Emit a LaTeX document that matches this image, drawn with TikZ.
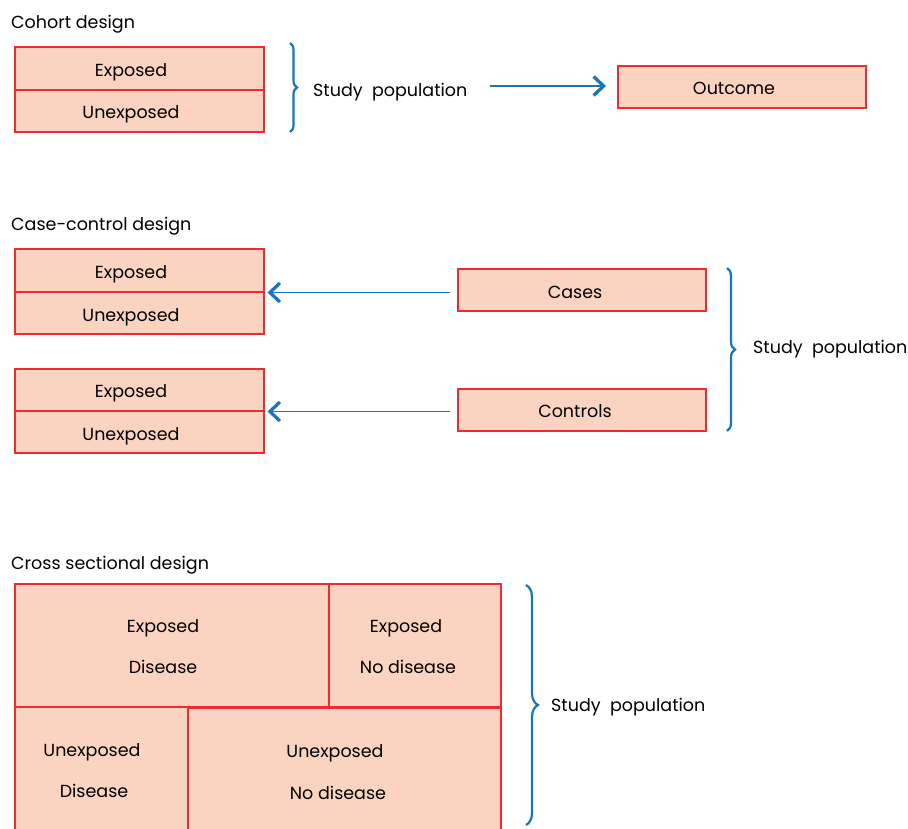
\documentclass[tikz,border=0pt]{standalone}
\usepackage{fontspec}
\setmainfont{Poppins}
\usetikzlibrary{arrows.meta,decorations.pathreplacing}
\definecolor{boxfill}{HTML}{FBD3C1}
\definecolor{boxline}{HTML}{EE2A35}
\definecolor{arrblue}{HTML}{1B75BB}
\begin{document}
\begin{tikzpicture}[x=1pt,y=-1pt,
  every node/.style={font=\fontsize{17.5}{41}\selectfont, text=black},
  cell/.style={draw=boxline, fill=boxfill, line width=1.5pt, anchor=north west, inner sep=0pt},
  txt/.style={align=center, inner sep=0pt, anchor=base},
  title/.style={anchor=base west, inner sep=0pt},
  lbl/.style={anchor=base west, inner sep=0pt},
  conn/.style={draw=arrblue, line width=1.8pt, -{Straight Barb[length=10pt,width=19pt,line width=3.3pt]}},
  bracestyle/.style={draw=arrblue, line width=2.2pt, decorate, decoration={brace, amplitude=#1}}]
\useasboundingbox (0,0) rectangle (908,828);
% Cohort
\node[title] (t1) at (11,28) {Cohort design};
\node[cell, minimum width=249pt, minimum height=43pt] (c1) at (14,46) {};
\node[cell, minimum width=249pt, minimum height=42pt] (c2) at (14,89) {};
\node[txt] (c1t) at (131,76) {Exposed};
\node[txt] (c2t) at (131,118) {Unexposed};
\draw[bracestyle=7pt] (290,43) -- (290,132);
\node[lbl] (sp1) at (313,96) {Study\ \ population};
\node[cell, minimum width=248pt, minimum height=42pt] (out) at (617,65) {};
\node[txt] (outt) at (734,94) {Outcome};
\coordinate (a1s) at (490,86);
\draw[conn, shorten >=11pt] (a1s) -- (out.west |- a1s);
% Case-control
\node[title] (t2) at (11,230) {Case-control design};
\node[cell, minimum width=249pt, minimum height=43pt] (e1) at (14,248) {};
\node[cell, minimum width=249pt, minimum height=42pt] (u1) at (14,291) {};
\node[cell, minimum width=249pt, minimum height=42pt] (e2) at (14,368) {};
\node[cell, minimum width=249pt, minimum height=42pt] (u2) at (14,410) {};
\node[txt] (e1t) at (131,278) {Exposed};
\node[txt] (u1t) at (131,321) {Unexposed};
\node[txt] (e2t) at (131,397) {Exposed};
\node[txt] (u2t) at (131,440) {Unexposed};
\node[cell, minimum width=248pt, minimum height=42pt] (cases) at (457,268) {};
\node[cell, minimum width=248pt, minimum height=42pt] (ctrl) at (457,388) {};
\node[txt] (casest) at (575,298) {Cases};
\node[txt] (ctrlt) at (575,417) {Controls};
\draw[conn, shorten <=7pt, shorten >=3pt] (cases.west |- e1.south east) -- (e1.south east);
\draw[conn, shorten <=7pt, shorten >=3pt] (ctrl.west |- e2.south east) -- (e2.south east);
\draw[bracestyle=8pt] (727,268) -- (727,431);
\node[lbl] (sp2) at (753,353) {Study\ \ population};
% Cross sectional
\node[title] (t3) at (11,569) {Cross sectional design};
\node[cell, minimum width=314pt, minimum height=123pt] (ed) at (14,583) {};
\node[cell, minimum width=172pt, minimum height=123pt] (end) at (328,583) {};
\node[cell, minimum width=173pt, minimum height=130pt] (ud) at (14,706) {};
\node[cell, minimum width=313pt, minimum height=130pt] (und) at (187,707) {};
\node[txt] (edt1) at (163,632) {Exposed};
\node[txt] (edt2) at (163,673) {Disease};
\node[txt] (endt1) at (406,632) {Exposed};
\node[txt] (endt2) at (408,673) {No disease};
\node[txt] (udt1) at (92,756) {Unexposed};
\node[txt] (udt2) at (94,797) {Disease};
\node[txt] (undt1) at (335,757) {Unexposed};
\node[txt] (undt2) at (338,799) {No disease};
\draw[bracestyle=12pt] (526,585) -- (526,825);
\node[lbl] (sp3) at (551,711) {Study\ \ population};
\end{tikzpicture}
\end{document}
